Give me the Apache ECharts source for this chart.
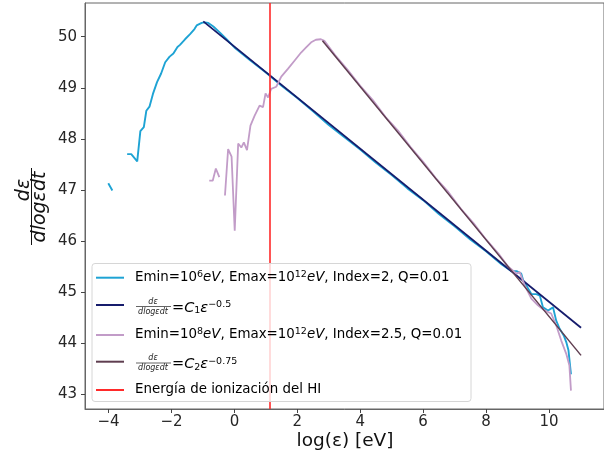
<!DOCTYPE html>
<html><head><meta charset="utf-8">
<script src="https://cdn.jsdelivr.net/npm/echarts@6/dist/echarts.min.js"></script>
<style>html,body{margin:0;padding:0;background:#fff}#c{width:604px;height:461px}</style>
</head><body><div id="c"></div>
<script>
// ---- data ----
const xTicks = [-4, -2, 0, 2, 4, 6, 8, 10];
const yTicks = [43, 44, 45, 46, 47, 48, 49, 50];

// Emin=1e6 eV, Index=2 (null = gap)
const blueX = [-4.01, -3.88, -3.6, -3.41, -3.28, -3.09, -2.99, -2.88, -2.80, -2.70, -2.59, -2.46, -2.33, -2.20, -2.06, -1.94, -1.81, -1.73, -1.57, -1.41, -1.27, -1.20, -1.04, -0.94, -0.83, -0.67, -0.46, -0.25,
  0.0, 0.5, 1.0, 1.5, 2.0, 2.5, 3.0, 3.5, 4.0, 4.5, 5.0, 5.5, 6.0, 6.5, 7.0, 7.5, 8.0, 8.5, 8.81,
  8.97, 9.12, 9.18, 9.44, 9.60, 9.71, 9.81, 9.97, 10.13, 10.23, 10.34, 10.47, 10.55, 10.62, 10.70];
const blueY = [47.13, 46.99, null, 47.70, 47.70, 47.56, 48.15, 48.23, 48.55, 48.63, 48.88, 49.11, 49.28, 49.50, 49.61, 49.67, 49.80, 49.84, 49.95, 50.05, 50.15, 50.22, 50.27, 50.28, 50.27, 50.20, 50.08, 49.95,
  49.79, 49.54, 49.30, 49.04, 48.80, 48.54, 48.27, 48.03, 47.79, 47.53, 47.29, 47.03, 46.80, 46.53, 46.29, 46.03, 45.80, 45.54, 45.41,
  45.41, 45.36, 45.23, 44.96, 44.96, 44.93, 44.70, 44.64, 44.70, 44.44, 44.28, 44.15, 44.02, 43.86, 43.39];

// fit C1 * eps^-0.5
const fit1X = [-0.99, 11.02];
const fit1Y = [50.30, 44.30];

// Emin=1e8 eV, Index=2.5
const purpleX = [-0.80, -0.69, -0.59, -0.48, -0.39, -0.30, -0.20, -0.09, 0.01, 0.12, 0.22, 0.30, 0.40, 0.51, 0.64, 0.80, 0.91, 0.99, 1.07, 1.17, 1.33, 1.49, 1.70, 1.91, 2.12, 2.28, 2.44, 2.59, 2.75, 2.86,
  3.2, 3.6, 4.0, 4.4, 4.8, 5.2, 5.6, 6.0, 6.4, 6.8, 7.2, 7.6, 8.0, 8.4, 8.7,
  8.97, 9.07, 9.23, 9.44, 9.65, 9.86, 10.07, 10.23, 10.39, 10.55, 10.65, 10.70];
const purpleY = [47.18, 47.18, 47.42, 47.25, null, 46.89, 47.80, 47.65, 46.20, 47.91, 47.83, 47.93, 47.78, 48.26, 48.45, 48.65, 48.62, 48.89, 48.81, 48.98, 49.02, 49.22, 49.37, 49.53, 49.69, 49.79, 49.89, 49.94, 49.95, 49.92,
  49.64, 49.35, 49.04, 48.76, 48.43, 48.16, 47.84, 47.55, 47.23, 46.96, 46.63, 46.35, 46.03, 45.75, 45.50,
  45.36, 45.39, 45.13, 44.87, 44.74, 44.64, 44.58, 44.35, 44.05, 43.79, 43.56, 43.07];

// fit C2 * eps^-0.75
const fit2X = [2.80, 11.02];
const fit2Y = [49.92, 43.76];

// ionization energy of HI: log10(13.6 eV)
const ionX = 1.13;

const colors = {blue: '#1ea3d4', navy: '#161c6c', purple: '#c29cc8', brown: '#5f3e50', red: '#ff2a2a'};

function pairs(xs, ys) { return xs.map((x, i) => [x, ys[i]]); }

const chart = echarts.init(document.getElementById('c'), null, {renderer: 'canvas'});

const FONT = 'DejaVu Sans';
const lx = 135;
const legendRows = [277.7, 305, 335, 361.7, 390];
const legendColors = [colors.blue, colors.navy, colors.purple, colors.brown, colors.red];

const graphics = [];
// legend box
graphics.push({type: 'rect', z: 100, shape: {x: 92, y: 263.5, width: 379, height: 138, r: 3},
  style: {fill: 'rgba(255,255,255,0.8)', stroke: '#d6d6d6', lineWidth: 1}});
legendRows.forEach((y, i) => {
  graphics.push({type: 'line', z: 101, shape: {x1: 96, y1: y, x2: 124, y2: y},
    style: {stroke: legendColors[i], lineWidth: 2}});
});
const rich = {
  n: {fontFamily: FONT, fontSize: 13.4, color: '#222'},
  it: {fontFamily: FONT, fontSize: 13.4, fontStyle: 'italic', color: '#222'},
  sup: {fontFamily: FONT, fontSize: 9.5, color: '#222', verticalAlign: 'top', padding: [0, 0, 6, 0]},
  sub: {fontFamily: FONT, fontSize: 9.5, color: '#222', verticalAlign: 'bottom', padding: [5, 0, 0, 0]},
  itb: {fontFamily: FONT, fontSize: 14.5, fontStyle: 'italic', color: '#222'},
  nb: {fontFamily: FONT, fontSize: 14.5, color: '#222'}
};
function legText(y, text) {
  graphics.push({type: 'text', z: 101, x: lx, y: y, style: {text: text, rich: rich, verticalAlign: 'middle', align: 'left'}});
}
legText(277.7, '{n|Emin=10}{sup|6}{it|eV}{n|, Emax=10}{sup|12}{it|eV}{n|, Index=2, Q=0.01}');
legText(335, '{n|Emin=10}{sup|8}{it|eV}{n|, Emax=10}{sup|12}{it|eV}{n|, Index=2.5, Q=0.01}');
legText(390, '{n|Energía de ionización del HI}');
function fracLegend(yc, sub, pow) {
  graphics.push({type: 'text', z: 101, x: 153, y: yc - 2.5, style: {text: 'dε', font: 'italic 8px "DejaVu Sans"', fill: '#222', align: 'center', verticalAlign: 'bottom'}});
  graphics.push({type: 'line', z: 101, shape: {x1: 136, y1: yc - 1.5, x2: 171, y2: yc - 1.5}, style: {stroke: '#222', lineWidth: 0.7}});
  graphics.push({type: 'text', z: 101, x: 153, y: yc - 0.5, style: {text: 'dlogεdt', font: 'italic 8px "DejaVu Sans"', fill: '#222', align: 'center', verticalAlign: 'top'}});
  graphics.push({type: 'text', z: 101, x: 172, y: yc, style: {text: '{nb|=}{itb|C}{sub|' + sub + '}{itb|ε}{sup|' + pow + '}', rich: rich, verticalAlign: 'middle', align: 'left'}});
}
fracLegend(308, '1', '−0.5');
fracLegend(364.5, '2', '−0.75');

// y-axis title (fraction, rotated)
graphics.push({type: 'text', x: 24, y: 190, rotation: Math.PI / 2,
  style: {text: 'dε', font: 'italic 19px "DejaVu Sans"', fill: '#111', align: 'center', verticalAlign: 'middle'}});
graphics.push({type: 'line', shape: {x1: 31.5, y1: 168, x2: 31.5, y2: 245}, style: {stroke: '#111', lineWidth: 1}});
graphics.push({type: 'text', x: 40, y: 207, rotation: Math.PI / 2,
  style: {text: 'dlogεdt', font: 'italic 19px "DejaVu Sans"', fill: '#111', align: 'center', verticalAlign: 'middle'}});
// x-axis title
graphics.push({type: 'text', x: 345, y: 441,
  style: {text: 'log(ε) [eV]', font: '18.5px "DejaVu Sans"', fill: '#111', align: 'center', verticalAlign: 'middle'}});

const lineSeries = (name, xs, ys, color, w, z) => ({
  name: name, type: 'line', data: pairs(xs, ys), symbol: 'none', showSymbol: false,
  connectNulls: false, z: z, lineStyle: {color: color, width: w}, itemStyle: {color: color},
  animation: false, silent: true
});

chart.setOption({
  animation: false,
  grid: {left: 85, top: 3, width: 522, height: 406, show: true, borderColor: '#666', borderWidth: 1, backgroundColor: 'transparent'},
  xAxis: {
    type: 'value', min: -4.75, max: 11.75,
    axisLine: {show: true, onZero: false, lineStyle: {color: '#666'}},
    axisTick: {show: true, length: 4, lineStyle: {color: '#444'}, customValues: xTicks},
    axisLabel: {customValues: xTicks, fontFamily: FONT, fontSize: 15, color: '#262626', margin: 6,
      formatter: v => (v < 0 ? '−' + Math.abs(v) : String(v))},
    splitLine: {show: false}
  },
  yAxis: {
    type: 'value', min: 42.71, max: 50.66,
    axisLine: {show: true, onZero: false, lineStyle: {color: '#666'}},
    axisTick: {show: true, length: 4, lineStyle: {color: '#444'}, customValues: yTicks},
    axisLabel: {customValues: yTicks, fontFamily: FONT, fontSize: 15, color: '#262626', margin: 8},
    splitLine: {show: false}
  },
  series: [
    lineSeries('Emin=10^6', blueX, blueY, colors.blue, 1.9, 2),
    lineSeries('fit1', fit1X, fit1Y, colors.navy, 1.8, 3),
    lineSeries('Emin=10^8', purpleX, purpleY, colors.purple, 1.8, 4),
    lineSeries('fit2', fit2X, fit2Y, colors.brown, 1.5, 5),
    {
      name: 'HI', type: 'line', data: [], z: 6, silent: true,
      markLine: {silent: true, symbol: 'none', animation: false, label: {show: false},
        lineStyle: {color: colors.red, width: 1.6, type: 'solid'},
        data: [{xAxis: ionX}]}
    }
  ],
  graphic: graphics
});
</script>
</body></html>
